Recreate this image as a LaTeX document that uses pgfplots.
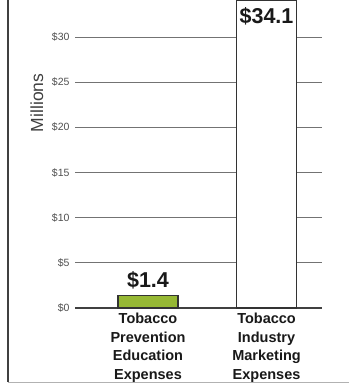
\documentclass[border=0pt]{standalone}
\usepackage{pgfplots}
\pgfplotsset{compat=1.18}
\usepackage{fontspec}
\setmainfont{Liberation Sans}
\definecolor{barGreen}{RGB}{150,184,52}
\definecolor{tickGray}{RGB}{80,80,80}
\begin{document}
\begin{tikzpicture}
\clip (0,0) rectangle (349pt,384pt);
\fill[white] (0,0) rectangle (349pt,384pt);
% frame of the panel
\draw[black!75, line width=1.5pt] (8pt,384pt) -- (8pt,1.5pt);
\draw[black!30, line width=1pt] (8pt,1.5pt) -- (349pt,1.5pt);
\begin{axis}[
  at={(75pt,76pt)}, anchor=south west,
  scale only axis, width=247pt, height=308pt,
  xmin=-0.616, xmax=1.468, ymin=0, ymax=34.1,
  axis line style={draw=none},
  clip=false,
  major tick length=0pt,
  /pgf/number format/assume math mode=true,
  ytick={0,5,10,15,20,25,30},
  yticklabels={\$0,\$5,\$10,\$15,\$20,\$25,\$30},
  yticklabel style={font=\fontsize{10.5}{12}\selectfont, text=tickGray, xshift=-2pt},
  ymajorgrids,
  grid style={black!55, line width=0.9pt},
  extra y ticks={0},
  extra y tick labels={},
  extra y tick style={grid style={black!75, line width=1.3pt}},
  xtick={0,1},
  xticklabels={Tobacco\\Prevention\\Education\\Expenses, Tobacco\\Industry\\Marketing\\Expenses},
  xticklabel style={font=\fontsize{14.5}{18.5}\selectfont\bfseries, align=center, text=black!90, yshift=-1.5pt},
  ylabel={Millions},
  ylabel style={font=\fontsize{17.5}{20}\selectfont, text=black!75, at={(axis description cs:-0.154,0.666)}, anchor=center},
  point meta=y,
  nodes near coords={\$\pgfmathprintnumber[fixed,precision=1,fixed zerofill]{\pgfplotspointmeta}},
  every node near coord/.append style={font=\fontsize{21.5}{24}\selectfont\bfseries, text=black!90},
]
\addplot[ybar, bar width=60pt, bar shift=0pt, fill=barGreen, draw=black!80, line width=1.2pt,
  nodes near coords align={vertical}, every node near coord/.append style={yshift=2pt}]
  coordinates {(0,1.4)};
\addplot[ybar, bar width=60pt, bar shift=0pt, fill=white, draw=black!80, line width=1.2pt,
  every node near coord/.append style={anchor=north, yshift=-4pt}]
  coordinates {(1,34.1)};
\end{axis}
\end{tikzpicture}
\end{document}
